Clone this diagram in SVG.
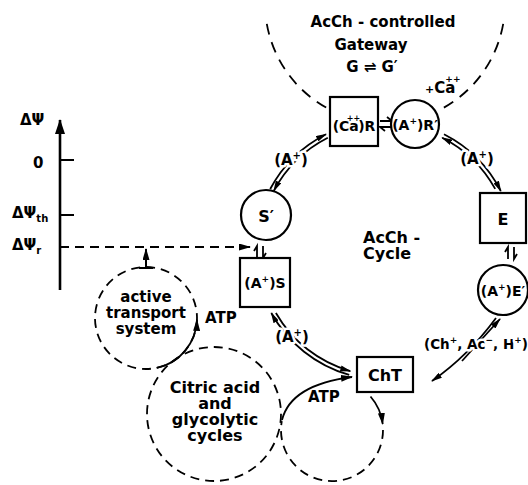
<svg xmlns="http://www.w3.org/2000/svg" width="528" height="485" viewBox="0 0 528 485">
<style>
  text { font-family: "DejaVu Sans", "Liberation Sans", sans-serif; font-weight: bold; fill: #000; }
  .node { fill: #fff; stroke: #000; stroke-width: 2.2; }
  .dc { fill: none; stroke: #000; stroke-width: 1.8; stroke-dasharray: 9 6; }
  .cn { fill: none; stroke: #000; stroke-width: 1.8; }
  .hp { fill: none; stroke: #000; stroke-width: 1.8; stroke-linejoin: miter; }
  .t15 { font-size: 15px; }
  .t14 { font-size: 14px; text-anchor: middle; }
  .t16 { font-size: 16px; text-anchor: middle; }
  .mid { text-anchor: middle; }
  .halo { stroke: #fff; stroke-width: 5; paint-order: stroke; stroke-linejoin: round; }
</style>
<defs>
  <marker id="ah" markerUnits="userSpaceOnUse" viewBox="0 0 11 6" refX="10" refY="3" markerWidth="11" markerHeight="6" orient="auto">
    <path d="M0,0 L11,3 L0,6 z" fill="#000" stroke="none"/>
  </marker>
  <marker id="big" markerUnits="userSpaceOnUse" viewBox="0 0 15 10" refX="14" refY="5" markerWidth="15" markerHeight="10" orient="auto">
    <path d="M0,0 L15,5 L0,10 z" fill="#000" stroke="none"/>
  </marker>
  <marker id="mid" markerUnits="userSpaceOnUse" viewBox="0 0 12 7" refX="11" refY="3.5" markerWidth="12" markerHeight="7" orient="auto">
    <path d="M0,0 L12,3.5 L0,7 z" fill="#000" stroke="none"/>
  </marker>
</defs>

<!-- potential axis -->
<g id="axis">
  <path d="M60 290 V120" stroke="#000" stroke-width="2.6" fill="none" marker-end="url(#big)"/>
  <path d="M60 160 H74 M60 215 H74" stroke="#000" stroke-width="2.2" fill="none"/>
  <text class="t15" x="20" y="125">ΔΨ</text>
  <text class="t15" x="33" y="168">0</text>
  <text class="t15" x="12" y="218">ΔΨ<tspan font-size="10" dy="4">th</tspan></text>
  <text class="t15" x="12" y="250">ΔΨ<tspan font-size="10" dy="4">r</tspan></text>
</g>

<!-- gateway -->
<g id="gateway">
  <path class="dc" style="stroke-dasharray: 11 8" d="M266.8 23.8 A120 120 0 0 0 330.5 109.9"/>
  <path class="dc" style="stroke-dasharray: 11 8" d="M503.2 23.8 A120 120 0 0 1 437.6 110.9"/>
  <text class="mid" font-size="15" x="383" y="27">AcCh - controlled</text>
  <text class="mid" font-size="15" x="371" y="50">Gateway</text>
  <text class="mid" font-size="15" x="372" y="72">G ⇌ G′</text>
  <text font-size="15" x="425" y="93"><tspan font-size="11">+</tspan>Ca<tspan font-size="9" dx="-10" dy="-11">++</tspan></text>
</g>

<g id="connectors">
  <!-- S' <-> (Ca)R -->
  <path class="cn" d="M270.2 189 A130 130 0 0 1 326 134.2" marker-end="url(#ah)"/>
  <path class="cn" d="M327.8 137.7 A126 126 0 0 0 273.8 190.8" marker-end="url(#ah)"/>
  <!-- R' <-> E -->
  <path class="cn" d="M444 134.2 A130 130 0 0 1 500.8 191" marker-end="url(#ah)"/>
  <path class="cn" d="M495.2 188.9 A126 126 0 0 0 442.2 137.7" marker-end="url(#ah)"/>
  <!-- (A+)S <-> ChT -->
  <path class="cn" d="M275.9 313 A126 126 0 0 0 350.3 371.1" marker-end="url(#ah)"/>
  <path class="cn" d="M349.2 374.9 A130 130 0 0 1 271.3 313" marker-end="url(#ah)"/>
  <!-- E' <-> ChT -->
  <path class="cn" d="M496 318 Q468 356 432 381" marker-end="url(#ah)"/>
  <path class="cn" d="M462 361 Q481 340 500 319" marker-end="url(#ah)"/>
  <!-- small equilibria -->
  <path class="hp" d="M257 258 V246 L254 251"/>
  <path class="hp" d="M263 246 V258 L266 253"/>
  <path class="hp" d="M508 259 V247 L505 252"/>
  <path class="hp" d="M514 247 V259 L517 254"/>
  <path class="hp" d="M380 121 H392 L387 117"/>
  <path class="hp" d="M392 127 H380 L385 131"/>
  <!-- resting potential dashed -->
  <path d="M60 247 H244" stroke="#000" stroke-width="2" stroke-dasharray="9 6" fill="none"/>
  <path d="M240 247 H250" stroke="#000" stroke-width="2" fill="none" marker-end="url(#mid)"/>
  <path d="M146 268 V249" stroke="#000" stroke-width="2" fill="none" marker-end="url(#mid)"/>
  <path d="M139 268 H153" stroke="#000" stroke-width="2" fill="none"/>
  <!-- ATP arrows -->
  <path class="cn" d="M156.6 367.9 A51 51 0 0 0 197 319.8" stroke-width="2.2" marker-end="url(#mid)"/>
  <path class="cn" d="M282 420 C287 400 305 383 352 377" stroke-width="2.2" marker-end="url(#mid)"/>
  <path class="cn" d="M370.5 396.5 A51 51 0 0 1 382.7 424" stroke-width="2" marker-end="url(#mid)"/>
  <path class="dc" d="M383 430 A51 51 0 1 1 281.8 421.1"/>
</g>

<g id="activeTransport">
  <circle class="dc" cx="146" cy="318" r="51"/>
  <text class="mid" font-size="15" x="146" y="302">active</text>
  <text class="mid" font-size="15" x="146" y="318">transport</text>
  <text class="mid" font-size="15" x="146" y="334">system</text>
  <text font-size="15" x="205" y="323">ATP</text>
</g>

<g id="citric">
  <circle class="dc" cx="214" cy="414" r="67"/>
  <text class="mid" font-size="16" x="215" y="393">Citric acid</text>
  <text class="mid" font-size="16" x="215" y="409">and</text>
  <text class="mid" font-size="16" x="215" y="425">glycolytic</text>
  <text class="mid" font-size="16" x="215" y="441">cycles</text>
  <text font-size="15" x="308" y="402">ATP</text>
</g>

<g id="labels">
  <text class="mid halo" font-size="15" x="291" y="165">(A<tspan font-size="10" dy="-6">+</tspan><tspan dy="6">)</tspan></text>
  <text class="mid halo" font-size="15" x="477" y="164">(A<tspan font-size="10" dy="-6">+</tspan><tspan dy="6">)</tspan></text>
  <text class="mid halo" font-size="15" x="292" y="342">(A<tspan font-size="10" dy="-6">+</tspan><tspan dy="6">)</tspan></text>
  <text class="halo" font-size="13.5" x="424" y="349">(Ch<tspan font-size="9" dy="-6">+</tspan><tspan dy="6">, Ac</tspan><tspan font-size="9" dy="-6">−</tspan><tspan dy="6">, H</tspan><tspan font-size="9" dy="-6">+</tspan><tspan dy="6">)</tspan></text>
  <text font-size="16" x="363" y="243">AcCh -</text>
  <text font-size="16" x="363" y="259">Cycle</text>
</g>

<g id="CaR">
  <rect class="node" x="330" y="97" width="48" height="49"/>
  <text class="t14" x="354" y="131">(Ca<tspan font-size="8" dx="-12" dy="-10">++</tspan><tspan dx="-2" dy="10">)R</tspan></text>
</g>
<g id="AR">
  <circle class="node" cx="415" cy="124" r="24"/>
  <text class="t14" x="415" y="130">(A<tspan font-size="9" dy="-6">+</tspan><tspan dy="6">)R′</tspan></text>
</g>
<g id="S">
  <circle class="node" cx="266" cy="215" r="25"/>
  <text class="t16" x="266" y="222">S′</text>
</g>
<g id="AS">
  <rect class="node" x="240" y="258" width="50" height="49"/>
  <text class="t14" x="265" y="288">(A<tspan font-size="9" dy="-6">+</tspan><tspan dy="6">)S</tspan></text>
</g>
<g id="E">
  <rect class="node" x="480" y="193" width="46" height="50"/>
  <text class="t16" x="503" y="225">E</text>
</g>
<g id="AE">
  <circle class="node" cx="503" cy="290" r="25"/>
  <text class="t14" x="503" y="296">(A<tspan font-size="9" dy="-6">+</tspan><tspan dy="6">)E′</tspan></text>
</g>
<g id="ChT">
  <rect class="node" x="357" y="357" width="56" height="35"/>
  <text class="t16" x="385" y="381">ChT</text>
</g>
</svg>
